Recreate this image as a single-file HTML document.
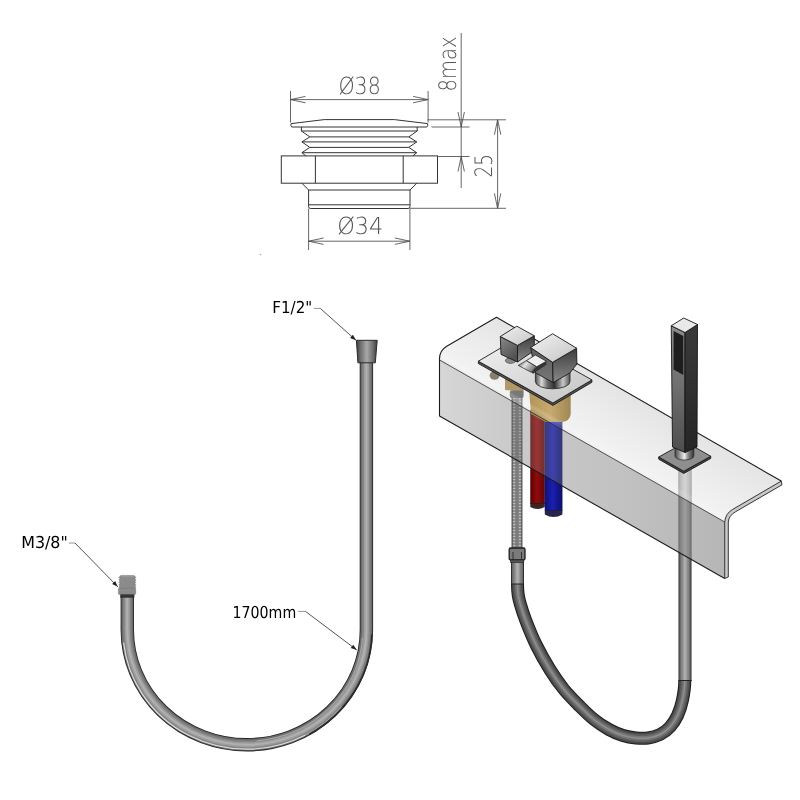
<!DOCTYPE html>
<html><head><meta charset="utf-8"><title>Hose drawing</title>
<style>
html,body{margin:0;padding:0;background:#fff;}
body{width:800px;height:800px;overflow:hidden;}
svg{display:block;}
.dim{font-family:"DejaVu Sans Light","DejaVu Sans","Liberation Sans",sans-serif;font-weight:200;fill:#555;}
.lbl{font-family:"DejaVu Sans Condensed","DejaVu Sans","Liberation Sans",sans-serif;fill:#000;font-size:16.5px;}
text{text-rendering:geometricPrecision;}
.o{fill:none;stroke:#333;stroke-width:1;}
.d{fill:none;stroke:#4c4c4c;stroke-width:0.85;}
</style></head><body>
<svg width="800" height="800" viewBox="0 0 800 800">
<defs>
<linearGradient id="gFace" gradientUnits="userSpaceOnUse" x1="439" y1="0" x2="725" y2="0"><stop offset="0" stop-color="#909090" stop-opacity="0.37"/><stop offset="0.25" stop-color="#747474" stop-opacity="0.38"/><stop offset="0.6" stop-color="#636363" stop-opacity="0.39"/><stop offset="1" stop-color="#4d4d4d" stop-opacity="0.41"/></linearGradient>
<linearGradient id="gFillet" gradientUnits="userSpaceOnUse" x1="500" y1="385" x2="495.3" y2="393.2"><stop offset="0" stop-color="#ffffff" stop-opacity="0.0"/><stop offset="0.35" stop-color="#ffffff" stop-opacity="0.18"/><stop offset="0.6" stop-color="#ffffff" stop-opacity="0.05"/><stop offset="1" stop-color="#5a5a5a" stop-opacity="0.22"/></linearGradient>
<linearGradient id="gTop" gradientUnits="userSpaceOnUse" x1="560" y1="350" x2="530" y2="402"><stop offset="0" stop-color="#a8a8a8" stop-opacity="0.32"/><stop offset="1" stop-color="#c8c8c8" stop-opacity="0.25"/></linearGradient>
<linearGradient id="gCyl" x1="0" y1="0" x2="1" y2="0"><stop offset="0" stop-color="#444"/><stop offset="0.25" stop-color="#999"/><stop offset="0.5" stop-color="#eee"/><stop offset="0.7" stop-color="#888"/><stop offset="1" stop-color="#333"/></linearGradient>
<linearGradient id="gHoseV" x1="0" y1="0" x2="1" y2="0"><stop offset="0" stop-color="#3c3c3c"/><stop offset="0.2" stop-color="#6e6e6e"/><stop offset="0.5" stop-color="#a8a8a8"/><stop offset="0.8" stop-color="#6e6e6e"/><stop offset="1" stop-color="#3c3c3c"/></linearGradient>
<linearGradient id="gRed" x1="0" y1="0" x2="1" y2="0"><stop offset="0" stop-color="#6a0606"/><stop offset="0.45" stop-color="#b81010"/><stop offset="1" stop-color="#700808"/></linearGradient>
<linearGradient id="gBlue" x1="0" y1="0" x2="1" y2="0"><stop offset="0" stop-color="#14188a"/><stop offset="0.45" stop-color="#2228d8"/><stop offset="1" stop-color="#101478"/></linearGradient>
<linearGradient id="gBrass" x1="0" y1="0" x2="1" y2="0"><stop offset="0" stop-color="#a88438"/><stop offset="0.5" stop-color="#c8a050"/><stop offset="1" stop-color="#94722e"/></linearGradient>
<linearGradient id="gDarkV" x1="0" y1="0" x2="0" y2="1"><stop offset="0" stop-color="#3c3c3c"/><stop offset="1" stop-color="#8a8a8a"/></linearGradient>
<linearGradient id="gMidV" x1="0" y1="0" x2="0" y2="1"><stop offset="0" stop-color="#5c5c5c"/><stop offset="1" stop-color="#767676"/></linearGradient>
<linearGradient id="gLightTop" x1="0" y1="0" x2="1" y2="1"><stop offset="0" stop-color="#f2f2f2"/><stop offset="1" stop-color="#c4c4c4"/></linearGradient>
<linearGradient id="gShL" x1="0" y1="0" x2="0" y2="1"><stop offset="0" stop-color="#8c8c8c"/><stop offset="1" stop-color="#4e4e4e"/></linearGradient>
<linearGradient id="gShR" x1="0" y1="0" x2="0" y2="1"><stop offset="0" stop-color="#3a3a3a"/><stop offset="1" stop-color="#262626"/></linearGradient>
<linearGradient id="gLever" x1="0" y1="0" x2="1" y2="0.5"><stop offset="0" stop-color="#5a5a5a"/><stop offset="0.45" stop-color="#e0e0e0"/><stop offset="1" stop-color="#707070"/></linearGradient>
<linearGradient id="gCyl2" x1="0" y1="0" x2="1" y2="0"><stop offset="0" stop-color="#4a4a4a"/><stop offset="0.18" stop-color="#d8d8d8"/><stop offset="0.35" stop-color="#6a6a6a"/><stop offset="0.55" stop-color="#303030"/><stop offset="0.8" stop-color="#c8c8c8"/><stop offset="1" stop-color="#555"/></linearGradient>
<linearGradient id="gMidV2" x1="0" y1="0" x2="0.6" y2="1"><stop offset="0" stop-color="#8a8a8a"/><stop offset="1" stop-color="#505050"/></linearGradient>
<pattern id="braid" x="511.6" y="397" width="10.8" height="3" patternUnits="userSpaceOnUse"><rect width="10.8" height="3" fill="#7a7a7a"/><rect x="0" width="1.2" height="3" fill="#484848"/><rect x="9.6" width="1.2" height="3" fill="#484848"/><rect x="1.5" y="0.7" width="1.7" height="1.6" fill="#f4f4f4"/><rect x="7.6" y="0.7" width="1.7" height="1.6" fill="#f4f4f4"/><rect x="4.6" y="-0.6" width="1.6" height="1.2" fill="#666"/><rect x="4.6" y="2.4" width="1.6" height="1.2" fill="#666"/></pattern>
</defs>
<rect width="800" height="800" fill="#fff"/>

<g id="fitting">
<path class="o" d="M291.1,123.6 L324.2,119.6 L394.40000000000003,119.6 L427.5,123.6 Q428.40000000000003,125.6 426.90000000000003,127 L291.7,127 Q290.2,125.6 291.1,123.6 Z"/>
<polyline class="o" points="301.40,127.00 301.40,131.00 309.80,136.90 301.90,141.90 309.80,147.40 301.90,152.70 305.80,155.90"/>
<polyline class="o" points="417.20,127.00 417.20,131.00 408.80,136.90 416.70,141.90 408.80,147.40 416.70,152.70 412.80,155.90"/>
<line class="o" x1="301.4" y1="131" x2="417.20000000000005" y2="131"/>
<line class="o" x1="309.8" y1="136.9" x2="408.8" y2="136.9"/>
<line class="o" x1="301.9" y1="141.9" x2="416.70000000000005" y2="141.9"/>
<line class="o" x1="309.8" y1="147.4" x2="408.8" y2="147.4"/>
<line class="o" x1="301.9" y1="152.7" x2="416.70000000000005" y2="152.7"/>
<rect class="o" x="281.3" y="155.9" width="156.2" height="27.299999999999983"/>
<line class="o" x1="315.4" y1="155.9" x2="315.4" y2="183.2"/><line class="o" x1="403.20000000000005" y1="155.9" x2="403.20000000000005" y2="183.2"/>
<path class="o" d="M301.9,183.2 L308.6,190 L308.6,206.6 Q308.6,208.5 310.6,208.5 L408.0,208.5 Q410.0,208.5 410.0,206.6 L410.0,190 L416.70000000000005,183.2"/>
<line class="o" x1="308.6" y1="190" x2="410.0" y2="190"/>
<line class="o" x1="308.6" y1="204.8" x2="410.0" y2="204.8"/>
</g>
<g id="dims">
<line class="d" x1="290.5" y1="91" x2="290.5" y2="122.5"/><line class="d" x1="428.1" y1="91" x2="428.1" y2="122.5"/>
<line class="d" x1="290.5" y1="99.6" x2="428.1" y2="99.6"/>
<polyline class="d" points="305.5,96.4 290.5,99.6 305.5,102.8"/>
<polyline class="d" points="413.1,102.8 428.1,99.6 413.1,96.4"/>
<line class="d" x1="308.6" y1="208.5" x2="308.6" y2="250"/><line class="d" x1="409.9" y1="208.5" x2="409.9" y2="250"/>
<line class="d" x1="308.6" y1="241.2" x2="409.9" y2="241.2"/>
<polyline class="d" points="323.6,238.0 308.6,241.2 323.6,244.4"/>
<polyline class="d" points="394.9,244.4 409.9,241.2 394.9,238.0"/>
<line class="d" x1="427.5" y1="119.8" x2="506" y2="119.8"/>
<line class="d" x1="431.5" y1="127" x2="469.5" y2="127"/>
<line class="d" x1="437.5" y1="156.5" x2="469.5" y2="156.5"/>
<line class="d" x1="409.9" y1="208.3" x2="506" y2="208.3"/>
<line class="d" x1="461.2" y1="33" x2="461.2" y2="188"/>
<polyline class="d" points="458.0,112.0 461.2,127 464.4,112.0"/>
<polyline class="d" points="464.4,171.5 461.2,156.5 458.0,171.5"/>
<line class="d" x1="497.6" y1="119.8" x2="497.6" y2="208.3"/>
<polyline class="d" points="500.8,134.8 497.6,119.8 494.4,134.8"/>
<polyline class="d" points="494.4,193.3 497.6,208.3 500.8,193.3"/>
</g>
<g style="filter:grayscale(1)">
<text class="dim" x="338.4" y="93.8" font-size="23.5" textLength="42.4" lengthAdjust="spacingAndGlyphs">Ø38</text>
<text class="dim" x="337.2" y="233.8" font-size="23.5" textLength="46.2" lengthAdjust="spacingAndGlyphs">Ø34</text>
<text class="dim" transform="translate(492.4,177.5) rotate(-90)" font-size="24" textLength="23.6" lengthAdjust="spacingAndGlyphs">25</text>
<text class="dim" transform="translate(456.4,91.4) rotate(-90)" font-size="24" textLength="55" lengthAdjust="spacingAndGlyphs">8max</text>
</g>
<circle cx="260.5" cy="254.5" r="0.8" fill="#aaa"/>
<g id="hose1"><path d="M127.3,596 L127.3,630 A119.54999999999998,114.8 0 0 0 366.4,630 L366.4,361" fill="none" stroke="#242424" stroke-width="13.4" stroke-linecap="butt"/><path d="M127.3,596 L127.3,630 A119.54999999999998,114.8 0 0 0 366.4,630 L366.4,361" fill="none" stroke="#6c6c6c" stroke-width="11.700000000000001" stroke-linecap="butt"/><path d="M127.3,596 L127.3,630 A119.54999999999998,114.8 0 0 0 366.4,630 L366.4,361" fill="none" stroke="#848484" stroke-width="8.4" stroke-linecap="butt"/><path d="M127.3,596 L127.3,630 A119.54999999999998,114.8 0 0 0 366.4,630 L366.4,361" fill="none" stroke="#9e9e9e" stroke-width="4.9" stroke-linecap="butt"/><path d="M127.3,596 L127.3,630 A119.54999999999998,114.8 0 0 0 366.4,630 L366.4,361" fill="none" stroke="#b0b0b0" stroke-width="1.9000000000000004" stroke-linecap="butt"/>
<path d="M123.58,642.46 A123.95,119.20 0 0 0 305.04,735.25" fill="none" stroke="#dedede" stroke-width="1.2"/>
<path d="M305.04,735.25 A123.95,119.20 0 0 0 341.80,706.62" fill="none" stroke="#a8a8a8" stroke-width="1.1"/>
<path d="M256.96,740.78 A115.95,111.20 0 0 0 362.52,637.76" fill="none" stroke="#a4a4a4" stroke-width="1.2"/>
<path d="M309.42,734.27 A125.15,120.40 0 0 0 371.92,634.20" fill="none" stroke="#2a2a2a" stroke-width="1.6"/>
</g>
<polygon points="356.4,340.3 377.2,340.3 375.3,362.8 357.9,362.8" fill="url(#gHoseV)" stroke="#2a2a2a" stroke-width="1"/>
<polygon points="120.90,575.40 133.90,575.40 134.90,576.20 135.80,577.40 134.90,578.65 135.80,579.85 134.90,581.10 135.80,582.30 134.90,583.55 135.80,584.75 134.90,586.00 135.80,587.20 134.90,588.45 119.90,588.45 119.00,587.20 119.90,586.00 119.00,584.75 119.90,583.55 119.00,582.30 119.90,581.10 119.00,579.85 119.90,578.65 119.00,577.40 119.90,576.20" fill="#8b8b8b" stroke="#6e6e6e" stroke-width="0.5"/>
<line x1="120.9" y1="576" x2="133.9" y2="576" stroke="#a8a8a8" stroke-width="0.9"/>
<rect x="118.4" y="588.3" width="17.3" height="6.1" rx="0.8" fill="#8b8b8b" stroke="#707070" stroke-width="0.5"/>
<rect x="120.2" y="594.3" width="14.2" height="3.4" fill="#333"/>
<g style="filter:grayscale(1)"><text class="lbl" x="272.3" y="313.1" textLength="40" lengthAdjust="spacingAndGlyphs">F1/2"</text></g>
<line x1="313.8" y1="308.4" x2="320.3" y2="308.4" stroke="#8a8a8a" stroke-width="0.9"/><line x1="320.3" y1="308.4" x2="356" y2="340.3" stroke="#2a2a2a" stroke-width="0.8"/><polygon points="356,340.3 350.1,337.9 352.9,334.7" fill="#222"/>
<g style="filter:grayscale(1)"><text class="lbl" x="21.2" y="548.3" textLength="46.6" lengthAdjust="spacingAndGlyphs">M3/8"</text></g>
<line x1="68.8" y1="543" x2="75" y2="543" stroke="#8a8a8a" stroke-width="0.9"/><line x1="75" y1="543" x2="117.8" y2="586.8" stroke="#2a2a2a" stroke-width="0.8"/><polygon points="117.8,586.8 112.1,584.0 115.1,581.0" fill="#222"/>
<g style="filter:grayscale(1)"><text class="lbl" x="232.6" y="618.2" textLength="63.6" lengthAdjust="spacingAndGlyphs">1700mm</text></g>
<line x1="298" y1="611.4" x2="305.5" y2="611.4" stroke="#8a8a8a" stroke-width="0.9"/><line x1="305.5" y1="611.4" x2="356.8" y2="650" stroke="#2a2a2a" stroke-width="0.8"/><polygon points="356.8,650 350.7,648.1 353.3,644.7" fill="#222"/>
<g id="render">
<rect x="511.6" y="397" width="10.8" height="152" fill="url(#braid)"/>
<rect x="511.6" y="397" width="10.8" height="152" fill="url(#gHoseV)" opacity="0.18"/>
<path d="M517.5,561 L517.5,584.3" fill="none" stroke="#242424" stroke-width="13" stroke-linecap="butt"/><path d="M517.5,561 L517.5,584.3" fill="none" stroke="#6c6c6c" stroke-width="11.3" stroke-linecap="butt"/><path d="M517.5,561 L517.5,584.3" fill="none" stroke="#848484" stroke-width="8" stroke-linecap="butt"/><path d="M517.5,561 L517.5,584.3" fill="none" stroke="#9e9e9e" stroke-width="4.5" stroke-linecap="butt"/><path d="M517.5,561 L517.5,584.3" fill="none" stroke="#b0b0b0" stroke-width="1.5" stroke-linecap="butt"/>
<path d="M685,681 L685,470" fill="none" stroke="#242424" stroke-width="13" stroke-linecap="butt"/><path d="M685,681 L685,470" fill="none" stroke="#6c6c6c" stroke-width="11.3" stroke-linecap="butt"/><path d="M685,681 L685,470" fill="none" stroke="#848484" stroke-width="8" stroke-linecap="butt"/><path d="M685,681 L685,470" fill="none" stroke="#9e9e9e" stroke-width="4.5" stroke-linecap="butt"/><path d="M685,681 L685,470" fill="none" stroke="#b0b0b0" stroke-width="1.5" stroke-linecap="butt"/>
<path d="M517.5,584 C517.5,587.5 517.7,591.7 518.2,595 C518.7,598.3 519.1,599.8 520.3,604 C521.5,608.2 523.0,613.2 525.6,620 C528.2,626.8 532.1,636.7 536.2,645 C540.3,653.3 545.6,662.6 550.2,670 C554.8,677.4 559.1,683.5 564,689.5 C568.9,695.5 574.5,701.0 579.5,706 C584.5,711.0 589.1,715.6 594,719.5 C598.9,723.4 604.2,726.8 609,729.5 C613.8,732.2 618.5,734.1 623,735.5 C627.5,736.9 631.8,737.6 636,738 C640.2,738.4 644.0,738.6 648,738 C652.0,737.4 656.3,736.3 660,734.5 C663.7,732.7 667.1,730.2 670,727 C672.9,723.8 675.4,720.0 677.5,715.5 C679.6,711.0 681.3,705.8 682.5,700 C683.7,694.2 684.8,686.5 684.8,680.5" fill="none" stroke="#1c1c1c" stroke-width="13" stroke-linecap="butt"/><path d="M517.5,584 C517.5,587.5 517.7,591.7 518.2,595 C518.7,598.3 519.1,599.8 520.3,604 C521.5,608.2 523.0,613.2 525.6,620 C528.2,626.8 532.1,636.7 536.2,645 C540.3,653.3 545.6,662.6 550.2,670 C554.8,677.4 559.1,683.5 564,689.5 C568.9,695.5 574.5,701.0 579.5,706 C584.5,711.0 589.1,715.6 594,719.5 C598.9,723.4 604.2,726.8 609,729.5 C613.8,732.2 618.5,734.1 623,735.5 C627.5,736.9 631.8,737.6 636,738 C640.2,738.4 644.0,738.6 648,738 C652.0,737.4 656.3,736.3 660,734.5 C663.7,732.7 667.1,730.2 670,727 C672.9,723.8 675.4,720.0 677.5,715.5 C679.6,711.0 681.3,705.8 682.5,700 C683.7,694.2 684.8,686.5 684.8,680.5" fill="none" stroke="#484848" stroke-width="11" stroke-linecap="butt"/><path d="M517.5,584 C517.5,587.5 517.7,591.7 518.2,595 C518.7,598.3 519.1,599.8 520.3,604 C521.5,608.2 523.0,613.2 525.6,620 C528.2,626.8 532.1,636.7 536.2,645 C540.3,653.3 545.6,662.6 550.2,670 C554.8,677.4 559.1,683.5 564,689.5 C568.9,695.5 574.5,701.0 579.5,706 C584.5,711.0 589.1,715.6 594,719.5 C598.9,723.4 604.2,726.8 609,729.5 C613.8,732.2 618.5,734.1 623,735.5 C627.5,736.9 631.8,737.6 636,738 C640.2,738.4 644.0,738.6 648,738 C652.0,737.4 656.3,736.3 660,734.5 C663.7,732.7 667.1,730.2 670,727 C672.9,723.8 675.4,720.0 677.5,715.5 C679.6,711.0 681.3,705.8 682.5,700 C683.7,694.2 684.8,686.5 684.8,680.5" fill="none" stroke="#5e5e5e" stroke-width="8" stroke-linecap="butt"/><path d="M517.5,584 C517.5,587.5 517.7,591.7 518.2,595 C518.7,598.3 519.1,599.8 520.3,604 C521.5,608.2 523.0,613.2 525.6,620 C528.2,626.8 532.1,636.7 536.2,645 C540.3,653.3 545.6,662.6 550.2,670 C554.8,677.4 559.1,683.5 564,689.5 C568.9,695.5 574.5,701.0 579.5,706 C584.5,711.0 589.1,715.6 594,719.5 C598.9,723.4 604.2,726.8 609,729.5 C613.8,732.2 618.5,734.1 623,735.5 C627.5,736.9 631.8,737.6 636,738 C640.2,738.4 644.0,738.6 648,738 C652.0,737.4 656.3,736.3 660,734.5 C663.7,732.7 667.1,730.2 670,727 C672.9,723.8 675.4,720.0 677.5,715.5 C679.6,711.0 681.3,705.8 682.5,700 C683.7,694.2 684.8,686.5 684.8,680.5" fill="none" stroke="#767676" stroke-width="4.5" stroke-linecap="butt"/><path d="M517.5,584 C517.5,587.5 517.7,591.7 518.2,595 C518.7,598.3 519.1,599.8 520.3,604 C521.5,608.2 523.0,613.2 525.6,620 C528.2,626.8 532.1,636.7 536.2,645 C540.3,653.3 545.6,662.6 550.2,670 C554.8,677.4 559.1,683.5 564,689.5 C568.9,695.5 574.5,701.0 579.5,706 C584.5,711.0 589.1,715.6 594,719.5 C598.9,723.4 604.2,726.8 609,729.5 C613.8,732.2 618.5,734.1 623,735.5 C627.5,736.9 631.8,737.6 636,738 C640.2,738.4 644.0,738.6 648,738 C652.0,737.4 656.3,736.3 660,734.5 C663.7,732.7 667.1,730.2 670,727 C672.9,723.8 675.4,720.0 677.5,715.5 C679.6,711.0 681.3,705.8 682.5,700 C683.7,694.2 684.8,686.5 684.8,680.5" fill="none" stroke="#8e8e8e" stroke-width="1.5" stroke-linecap="butt"/>
<line x1="511" y1="584" x2="524" y2="584" stroke="#222" stroke-width="1"/>
<line x1="678.5" y1="680.5" x2="691.5" y2="680.5" stroke="#222" stroke-width="1"/>
<rect x="509.2" y="548" width="15.8" height="12" rx="1.5" fill="#7a7a7a" stroke="#1e1e1e" stroke-width="1.3"/>
<line x1="513" y1="552" x2="513" y2="560" stroke="#222" stroke-width="0.8"/><line x1="521.5" y1="552" x2="521.5" y2="560" stroke="#222" stroke-width="0.8"/>
<rect x="510.6" y="560" width="13.2" height="2.6" fill="#555" stroke="#222" stroke-width="0.6"/>
<rect x="530.3" y="410" width="14.5" height="94" fill="url(#gRed)"/>
<path d="M530.3,503 L544.8,503 L544.8,507 Q537.5,511 530.3,507 Z" fill="#3a2424"/>
<rect x="544.8" y="415" width="17.6" height="96" fill="url(#gBlue)"/>
<path d="M544.8,510 L562.4,510 L562.4,514.5 Q553.6,519.5 544.8,514.5 Z" fill="#26264a"/>
<polygon points="530.3,467.7 544.8,476 544.8,504 530.3,504" fill="#300000" opacity="0.28"/>
<polygon points="544.8,476 562.4,486 562.4,511 544.8,511" fill="#000030" opacity="0.22"/>
<path d="M529.3,392 L570.7,392 L570.7,414 Q570,421 562,422 L546,422 Q538,418 531,414 Z" fill="url(#gBrass)"/>
<path d="M505,378 L523.6,384 L523.6,392 L505,390 Z" fill="#a88848"/>
<rect x="509.8" y="390.5" width="13.8" height="7.5" rx="2" fill="#5e5e5e"/>
<ellipse cx="494.6" cy="375.5" rx="5" ry="4.2" fill="#6e6650"/>
<path d="M496.5,317.25 L781.25,481.1 L732.5,509.5 Q725.5,513.5 724.7,522 L439.5,360 Q439.8,350.5 446.3,346.5 Z" fill="url(#gTop)"/>
<path d="M439.6,350.5 L724.9,512.5 L724.7,522 L439.5,360 Z" fill="url(#gFillet)"/>
<path d="M439.5,360 L724.7,522 L724.7,578.5 L439.5,416 Z" fill="url(#gFace)"/>
<polygon points="678.3,468 691.7,468 691.7,503.7 678.3,496.1" fill="#ececec" fill-opacity="0.55"/>
<polygon points="678.3,496.1 691.7,503.7 691.7,559.7 678.3,552.1" fill="#c4c4c4" fill-opacity="0.32"/>
<path d="M781.25,481.1 L782,484.8 L735.5,511.8 Q728.8,515.5 728.3,522 L728.3,577 L724.7,578.5 L724.7,522 Q725.5,513.5 732.5,509.5 Z" fill="#c9c9c9" stroke="#222" stroke-width="0.9" stroke-linejoin="round"/>
<path d="M724.7,578.5 L439.5,416 L439.5,358.5 Q439.8,350.5 446.3,346.5 L496.5,317.25 L781.25,481.1" fill="none" stroke="#1c1c1c" stroke-width="1.1" stroke-linejoin="round"/>
<line x1="439.5" y1="360" x2="724.7" y2="522" stroke="#2c2c2c" stroke-width="0.8"/>
<polygon points="478.40,361.20 552.90,403.00 591.90,379.90 591.90,382.30 552.90,405.40 478.40,363.60" fill="#555" stroke="#1a1a1a" stroke-width="0.9" stroke-linejoin="round"/>
<polygon points="478.40,361.20 552.90,403.00 591.90,379.90 517.40,338.10" fill="url(#gLightTop)" stroke="#1a1a1a" stroke-width="0.9" stroke-linejoin="round"/>
<ellipse cx="510.6" cy="360.6" rx="5.2" ry="2.8" fill="#8a8a8a" stroke="#333" stroke-width="0.6"/>
<polygon points="500.30,336.50 517.50,345.40 517.50,362.00 501.00,354.40" fill="url(#gMidV2)" stroke="#1a1a1a" stroke-width="0.9" stroke-linejoin="round"/>
<polygon points="517.50,345.40 534.30,335.80 534.30,350.50 517.50,362.00" fill="url(#gDarkV)" stroke="#1a1a1a" stroke-width="0.9" stroke-linejoin="round"/>
<polygon points="500.30,336.50 516.80,326.20 534.30,335.80 517.50,345.40" fill="url(#gLightTop)" stroke="#1a1a1a" stroke-width="0.9" stroke-linejoin="round"/>
<path d="M535.4,372 L535.4,381.5 A17.3,7.3 0 0 0 570,381.5 L570,372 Z" fill="url(#gCyl2)" stroke="#222" stroke-width="0.8"/>
<polygon points="530.60,347.50 552.60,362.30 553.20,382.60 535.40,372.80" fill="url(#gMidV)" stroke="#1a1a1a" stroke-width="0.9" stroke-linejoin="round"/>
<polygon points="552.60,362.30 576.60,348.20 576.90,364.00 569.75,373.00 553.20,382.60" fill="url(#gDarkV)" stroke="#1a1a1a" stroke-width="0.9" stroke-linejoin="round"/>
<polygon points="530.60,347.50 552.60,333.75 576.60,348.20 552.60,362.30" fill="url(#gLightTop)" stroke="#1a1a1a" stroke-width="0.9" stroke-linejoin="round"/>
<polygon points="536.75,366.75 546.40,361.25 546.40,364.80 533.00,373.80 531.25,372.25" fill="#333"/>
<polygon points="518.20,365.40 526.40,360.60 536.75,366.75 531.25,372.25" fill="url(#gLever)" stroke="#222" stroke-width="0.7" stroke-linejoin="round"/>
<polygon points="526.40,360.60 535.40,355.00 546.40,361.25 536.75,366.75" fill="#efefef" stroke="#222" stroke-width="0.8" stroke-linejoin="round"/>
<polygon points="658.75,457.00 683.75,471.25 710.75,456.25 710.75,458.45 683.75,473.45 658.75,459.20" fill="#444" stroke="#1a1a1a" stroke-width="0.9" stroke-linejoin="round"/>
<polygon points="658.75,457.00 683.75,471.25 710.75,456.25 685.75,442.00" fill="#8e8e8e" stroke="#1a1a1a" stroke-width="0.9" stroke-linejoin="round"/>
<path d="M675,447 L675,456 A9.4,4 0 0 0 693.8,456 L693.8,447 Z" fill="url(#gCyl)" stroke="#222" stroke-width="0.7"/>
<polygon points="671.25,325.75 685.00,332.50 685.00,452.50 672.50,447.00" fill="url(#gShL)" stroke="#151515" stroke-width="0.9" stroke-linejoin="round"/>
<polygon points="685.00,332.50 697.50,324.50 697.00,447.00 685.00,452.50" fill="url(#gShR)" stroke="#151515" stroke-width="0.9" stroke-linejoin="round"/>
<polygon points="671.25,325.75 683.75,318.00 697.50,324.50 685.00,332.50" fill="#e9e9e9" stroke="#151515" stroke-width="0.9" stroke-linejoin="round"/>
<polygon points="673.60,331.00 683.30,336.00 683.30,375.00 673.60,369.50" fill="#1e1e1e"/>
</g>
</svg></body></html>
